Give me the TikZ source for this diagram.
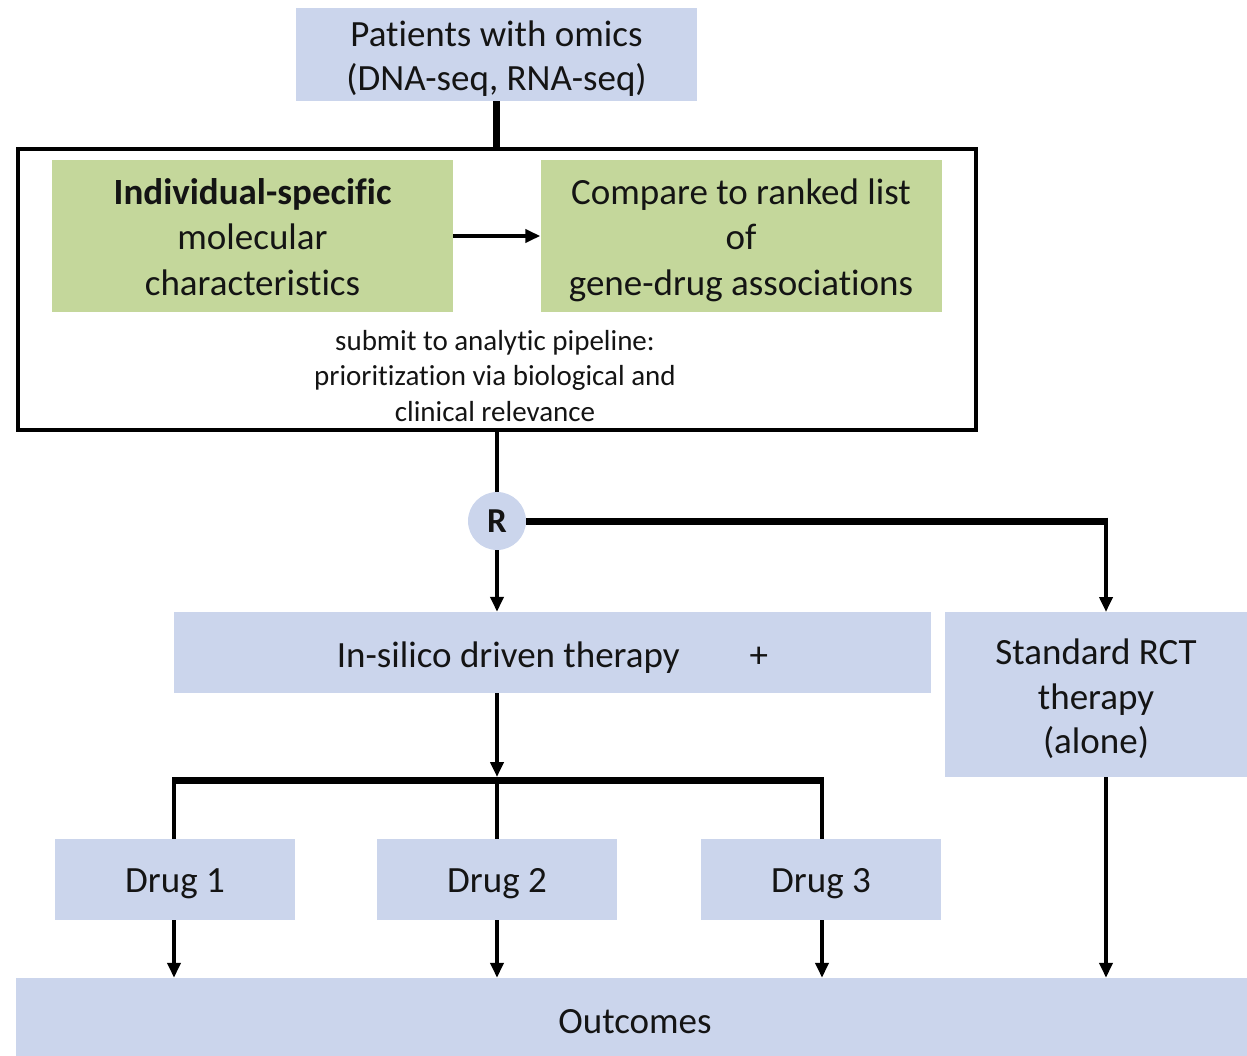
\documentclass[tikz,border=0pt]{standalone}
\usepackage{fontspec}
\setmainfont{Carlito}[Ligatures=NoCommon]
\usetikzlibrary{arrows.meta,calc}
\definecolor{boxblue}{RGB}{203,213,236}
\definecolor{boxgreen}{RGB}{196,215,155}
\definecolor{ink}{RGB}{20,20,20}
% centred multi-line text, nudged down without changing the box it occupies
\newcommand{\boxtext}[2][4pt]{\raisebox{-#1}[\height][\depth]{\begin{tabular}{@{}c@{}}#2\end{tabular}}}
\tikzset{
  bluebox/.style={fill=boxblue, draw=none, inner sep=0pt, text=ink,
    font=\fontsize{37}{44.5}\selectfont},
  greenbox/.style={fill=boxgreen, draw=none, inner sep=0pt, text=ink,
    font=\fontsize{37}{45.5}\selectfont, minimum width=401pt, minimum height=152pt},
  link/.style={line width=4pt, draw=black},
  heavy/.style={line width=7pt, draw=black},
  arr/.style={link, -{Triangle[length=15pt,width=13pt]}},
}
\begin{document}
\begin{tikzpicture}[x=1pt,y=-1pt]
\useasboundingbox (0,0) rectangle (1247,1056);

% input
\node[bluebox, minimum width=401pt, minimum height=93pt] (pat) at (496.5,54.5)
  {\boxtext[5pt]{Patients with omics\\(DNA-seq, RNA-seq)}};

% analytic pipeline frame
\node[draw=black, line width=4pt, minimum width=958pt, minimum height=281pt, inner sep=0pt]
  (frame) at (497,289.5) {};
\node[greenbox] (feat) at (252.5,236)
  {\boxtext[4.5pt]{\textbf{Individual-specific}\\molecular\\characteristics}};
\node[greenbox] (rank) at (741,236)
  {\boxtext[4.5pt]{Compare to ranked list\\of\\gene-drug associations}};
\node[align=center, text=ink, inner sep=0pt, font=\fontsize{29}{35.5}\selectfont]
  (pipe) at (495,376)
  {submit to analytic pipeline:\\prioritization via biological and\\clinical relevance};

% randomisation
\node[circle, fill=boxblue, minimum size=58pt, inner sep=0pt, text=ink,
  font=\fontsize{35}{40}\selectfont\bfseries] (R) at (497,521) {\raisebox{-1pt}{R}};

% arms
\node[bluebox, minimum width=757pt, minimum height=81pt] (ins) at (552.5,652.5)
  {\boxtext[6pt]{In-silico driven therapy\hspace{70pt}+}};
\node[bluebox, minimum width=302pt, minimum height=165pt] (rct) at (1096,694.5)
  {\boxtext[6pt]{Standard RCT\\therapy\\(alone)}};

% drugs
\node[bluebox, minimum width=240pt, minimum height=81pt] (d1) at (175,879.5) {\boxtext{Drug 1}};
\node[bluebox, minimum width=240pt, minimum height=81pt] (d2) at (497,879.5) {\boxtext{Drug 2}};
\node[bluebox, minimum width=240pt, minimum height=81pt] (d3) at (821,879.5) {\boxtext{Drug 3}};

% outcomes
\node[bluebox, minimum width=1231pt, minimum height=78pt] (out) at (631.5,1017)
  {\hspace{7pt}\boxtext[8pt]{Outcomes}};

\coordinate (split) at (497,780);
\coordinate (leftend) at (174,780);
\coordinate (rightend) at (822,780);
\coordinate (rctin) at (1106,612);

% connectors
\draw[heavy] (pat.south) -- (frame.north -| pat.south);
\draw[arr] (feat.east) -- (rank.west);
\draw[link] (frame.south -| R) -- (R.north);
\draw[arr] (R.south) -- (R.south |- ins.north);
\draw[heavy] (R.east) -- (rctin |- R.east);
\draw[arr] ($(rctin |- R.east)+(0,-3.5)$) -- (rctin);
\draw[arr] (ins.south -| split) -- ($(split)+(0,-3)$);
\draw[heavy] (leftend) -- (rightend);
\draw[link] ($(leftend)+(0,-3)$) -- (leftend |- d1.north);
\draw[link] (split) -- (split |- d2.north);
\draw[link] ($(rightend)+(0,-3)$) -- (rightend |- d3.north);
\draw[arr] (leftend |- d1.south) -- (leftend |- out.north);
\draw[arr] (split |- d2.south) -- (split |- out.north);
\draw[arr] (rightend |- d3.south) -- (rightend |- out.north);
\draw[arr] (rctin |- rct.south) -- (rctin |- out.north);
\end{tikzpicture}
\end{document}
